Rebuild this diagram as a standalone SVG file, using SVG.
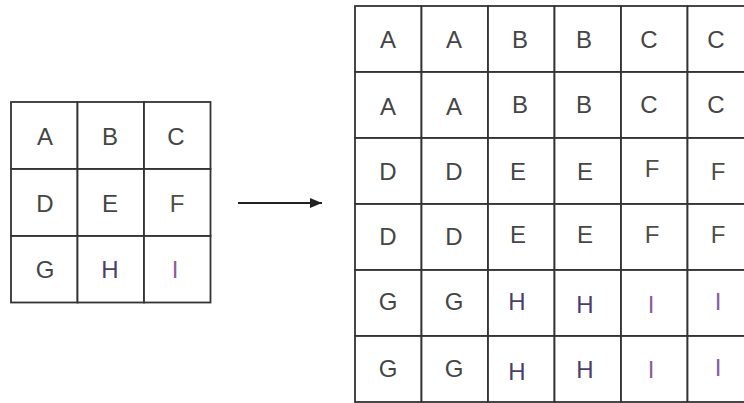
<svg xmlns="http://www.w3.org/2000/svg" width="744" height="403" viewBox="0 0 744 403">
<style>
.cell{fill:#fff;stroke:#333;stroke-width:1.8}
.t{font-family:"Liberation Sans",Arial,sans-serif;font-size:24px;fill:#454545;text-anchor:middle}
.f{fill:#4e4e40}
.h{fill:#4a3f6c}
.i{fill:#8a5e98}
</style>
<defs>
<marker id="ah" viewBox="0 0 12 10" refX="12" refY="5" markerWidth="12" markerHeight="10" markerUnits="userSpaceOnUse" orient="auto">
<path d="M0,0 L12,5 L0,10 Z" fill="#222"/>
</marker>
</defs>
<rect width="744" height="403" fill="#fff"/>
<g id="small-grid">
<g id="s-A"><rect class="cell" x="11" y="102" width="66.5" height="67"/><text class="t" x="45" y="145">A</text></g>
<g id="s-B"><rect class="cell" x="77.5" y="102" width="66.5" height="67"/><text class="t" x="110" y="145">B</text></g>
<g id="s-C"><rect class="cell" x="144" y="102" width="66.5" height="67"/><text class="t" x="176" y="145">C</text></g>
<g id="s-D"><rect class="cell" x="11" y="169" width="66.5" height="67"/><text class="t" x="45" y="212">D</text></g>
<g id="s-E"><rect class="cell" x="77.5" y="169" width="66.5" height="67"/><text class="t" x="110" y="212">E</text></g>
<g id="s-F"><rect class="cell" x="144" y="169" width="66.5" height="67"/><text class="t f" x="177" y="212">F</text></g>
<g id="s-G"><rect class="cell" x="11" y="236" width="66.5" height="66.5"/><text class="t" x="45" y="278">G</text></g>
<g id="s-H"><rect class="cell" x="77.5" y="236" width="66.5" height="66.5"/><text class="t h" x="110" y="278">H</text></g>
<g id="s-I"><rect class="cell" x="144" y="236" width="66.5" height="66.5"/><text class="t i" x="175" y="278">I</text></g>
</g>
<g id="connectors">
<line x1="238" y1="203" x2="322" y2="203" stroke="#222" stroke-width="2" marker-end="url(#ah)"/>
</g>
<g id="big-grid">
<g id="b-1-1"><rect class="cell" x="355" y="6" width="66.5" height="66"/><text class="t" x="388" y="48">A</text></g>
<g id="b-1-2"><rect class="cell" x="421.5" y="6" width="66.5" height="66"/><text class="t" x="454" y="48">A</text></g>
<g id="b-1-3"><rect class="cell" x="488" y="6" width="66.5" height="66"/><text class="t" x="520" y="48">B</text></g>
<g id="b-1-4"><rect class="cell" x="554.5" y="6" width="66.5" height="66"/><text class="t" x="584" y="48">B</text></g>
<g id="b-1-5"><rect class="cell" x="621" y="6" width="66.5" height="66"/><text class="t" x="649" y="48">C</text></g>
<g id="b-1-6"><rect class="cell" x="687.5" y="6" width="66.5" height="66"/><text class="t" x="716" y="48">C</text></g>
<g id="b-2-1"><rect class="cell" x="355" y="72" width="66.5" height="66"/><text class="t" x="388" y="115">A</text></g>
<g id="b-2-2"><rect class="cell" x="421.5" y="72" width="66.5" height="66"/><text class="t" x="454" y="115">A</text></g>
<g id="b-2-3"><rect class="cell" x="488" y="72" width="66.5" height="66"/><text class="t" x="520" y="113">B</text></g>
<g id="b-2-4"><rect class="cell" x="554.5" y="72" width="66.5" height="66"/><text class="t" x="584" y="113">B</text></g>
<g id="b-2-5"><rect class="cell" x="621" y="72" width="66.5" height="66"/><text class="t" x="649" y="113">C</text></g>
<g id="b-2-6"><rect class="cell" x="687.5" y="72" width="66.5" height="66"/><text class="t" x="716" y="113">C</text></g>
<g id="b-3-1"><rect class="cell" x="355" y="138" width="66.5" height="66"/><text class="t" x="388" y="180">D</text></g>
<g id="b-3-2"><rect class="cell" x="421.5" y="138" width="66.5" height="66"/><text class="t" x="454" y="180">D</text></g>
<g id="b-3-3"><rect class="cell" x="488" y="138" width="66.5" height="66"/><text class="t" x="518" y="180">E</text></g>
<g id="b-3-4"><rect class="cell" x="554.5" y="138" width="66.5" height="66"/><text class="t" x="585" y="180">E</text></g>
<g id="b-3-5"><rect class="cell" x="621" y="138" width="66.5" height="66"/><text class="t f" x="652" y="177">F</text></g>
<g id="b-3-6"><rect class="cell" x="687.5" y="138" width="66.5" height="66"/><text class="t f" x="718" y="180">F</text></g>
<g id="b-4-1"><rect class="cell" x="355" y="204" width="66.5" height="66"/><text class="t" x="388" y="245">D</text></g>
<g id="b-4-2"><rect class="cell" x="421.5" y="204" width="66.5" height="66"/><text class="t" x="454" y="245">D</text></g>
<g id="b-4-3"><rect class="cell" x="488" y="204" width="66.5" height="66"/><text class="t" x="518" y="243">E</text></g>
<g id="b-4-4"><rect class="cell" x="554.5" y="204" width="66.5" height="66"/><text class="t" x="585" y="243">E</text></g>
<g id="b-4-5"><rect class="cell" x="621" y="204" width="66.5" height="66"/><text class="t f" x="652" y="243">F</text></g>
<g id="b-4-6"><rect class="cell" x="687.5" y="204" width="66.5" height="66"/><text class="t f" x="718" y="243">F</text></g>
<g id="b-5-1"><rect class="cell" x="355" y="270" width="66.5" height="66"/><text class="t" x="388" y="310">G</text></g>
<g id="b-5-2"><rect class="cell" x="421.5" y="270" width="66.5" height="66"/><text class="t" x="454" y="310">G</text></g>
<g id="b-5-3"><rect class="cell" x="488" y="270" width="66.5" height="66"/><text class="t h" x="517" y="310">H</text></g>
<g id="b-5-4"><rect class="cell" x="554.5" y="270" width="66.5" height="66"/><text class="t h" x="585" y="313">H</text></g>
<g id="b-5-5"><rect class="cell" x="621" y="270" width="66.5" height="66"/><text class="t i" x="651" y="313">I</text></g>
<g id="b-5-6"><rect class="cell" x="687.5" y="270" width="66.5" height="66"/><text class="t i" x="718" y="310">I</text></g>
<g id="b-6-1"><rect class="cell" x="355" y="336" width="66.5" height="66"/><text class="t" x="388" y="377">G</text></g>
<g id="b-6-2"><rect class="cell" x="421.5" y="336" width="66.5" height="66"/><text class="t" x="454" y="377">G</text></g>
<g id="b-6-3"><rect class="cell" x="488" y="336" width="66.5" height="66"/><text class="t h" x="517" y="380">H</text></g>
<g id="b-6-4"><rect class="cell" x="554.5" y="336" width="66.5" height="66"/><text class="t h" x="585" y="378">H</text></g>
<g id="b-6-5"><rect class="cell" x="621" y="336" width="66.5" height="66"/><text class="t i" x="651" y="378">I</text></g>
<g id="b-6-6"><rect class="cell" x="687.5" y="336" width="66.5" height="66"/><text class="t i" x="718" y="376">I</text></g>
</g>
</svg>
